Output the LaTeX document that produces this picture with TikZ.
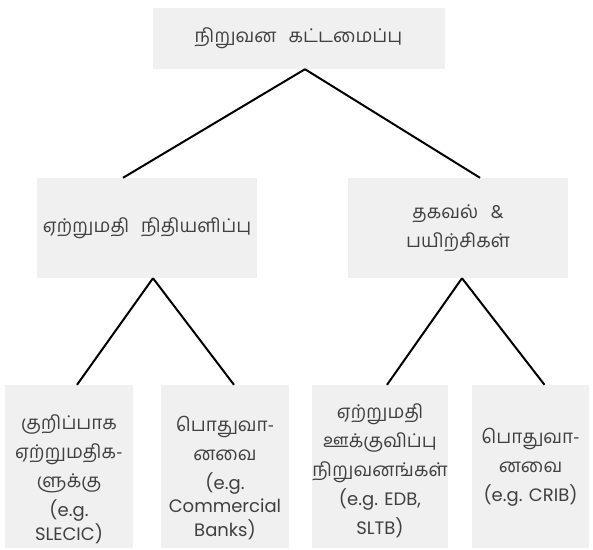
\documentclass[tikz,border=0pt]{standalone}
\usepackage{fontspec}
\setmainfont{Poppins}
\newfontfamily\tafont[Script=Tamil,Scale=1.05]{Hind Madurai}
\definecolor{boxgray}{HTML}{F0F0F0}
\definecolor{textgray}{HTML}{404040}

\begin{document}
\begin{tikzpicture}[x=1pt,y=-1pt,
    box/.style={fill=boxgray,text=textgray,align=center,inner sep=0pt,
        font=\fontsize{18}{29}\selectfont},
    leaf/.style n args={2}{box,minimum width=128pt,minimum height=163pt,
        text height=#1,text depth=#2},
    link/.style={line width=2pt}]

    \useasboundingbox (0,0) rectangle (593,549);

    \node[box,minimum width=292pt,minimum height=61pt] (T) at (298.5,38.5) {\tafont நிறுவன\hspace{12pt}கட்டமைப்பு};
    \node[box,minimum width=220pt,minimum height=100pt] (M1) at (147,228) {\tafont ஏற்றுமதி\hspace{12pt}நிதியளிப்பு};
    \node[box,minimum width=220pt,minimum height=100pt] (M2) at (458,228) {\tafont தகவல்\hspace{12pt}\&\\ \tafont பயிற்சிகள்};
    \node[leaf={155pt}{8pt}] (B1) at (69,466.5) {\tafont குறிப்பாக\\ \tafont ஏற்றுமதிக-\\ \tafont ளுக்கு\\ (e.g.\\[-5.5pt] SLECIC)};
    \node[leaf={151pt}{12pt}] (B2) at (225,466.5) {\tafont பொதுவா-\\ \tafont னவை\\ (e.g.\\[-5.5pt] Commercial\\[-5.5pt] Banks)};
    \node[leaf={149pt}{14pt}] (B3) at (380,466.5) {\tafont ஏற்றுமதி\\ \tafont ஊக்குவிப்பு\\ \tafont நிறுவனங்கள்\\ (e.g. EDB,\\ SLTB)};
    \node[leaf={116pt}{47pt},minimum width=117pt] (B4) at (530.5,466.5) {\tafont பொதுவா-\\ \tafont னவை\\ (e.g. CRIB)};

    \draw[link] ([xshift=6.5pt]T.south) -- ([xshift=-24pt]M1.north);
    \draw[link] ([xshift=6.5pt]T.south) -- ([xshift=22pt]M2.north);
    \draw[link] ([xshift=6pt]M1.south) -- ([xshift=8pt]B1.north);
    \draw[link] ([xshift=6pt]M1.south) -- ([xshift=9pt]B2.north);
    \draw[link] ([xshift=4pt]M2.south) -- ([xshift=7pt]B3.north);
    \draw[link] ([xshift=4pt]M2.south) -- ([xshift=14pt]B4.north);
\end{tikzpicture}
\end{document}
